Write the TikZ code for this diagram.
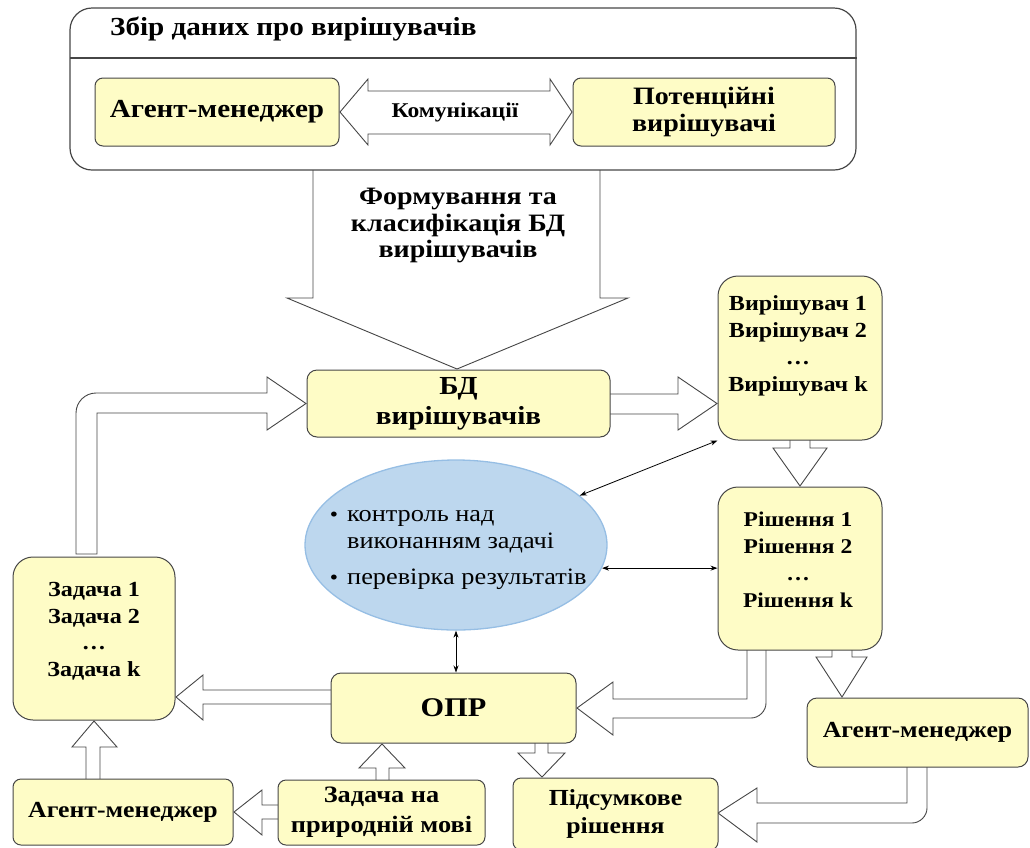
\documentclass[tikz,border=0pt]{standalone}
\usepackage{fontspec}
\setmainfont{Liberation Serif}[FakeStretch=1.12]
\usetikzlibrary{arrows.meta,shapes.geometric,backgrounds}
\definecolor{byel}{RGB}{254,252,198}
\definecolor{bord}{RGB}{70,70,70}
\definecolor{ellf}{RGB}{189,215,238}
\definecolor{elld}{RGB}{150,190,228}
\begin{document}
\begin{tikzpicture}[x=1pt,y=-1pt,
  ybox/.style={draw=bord, fill=byel, line width=1pt, inner sep=0pt, align=center},
  barrow/.style={draw=bord, fill=white, line width=0.9pt, line join=miter},
  thinarr/.style={{Stealth[length=7pt,width=5pt]}-{Stealth[length=7pt,width=5pt]}, line width=0.8pt, black},
  lbl/.style={inner sep=0pt, align=center},
  fs/.style 2 args={font=\bfseries\fontsize{#1}{#2}\selectfont},
  fr/.style 2 args={font=\fontsize{#1}{#2}\selectfont}]
\useasboundingbox (0,0) rectangle (1030,847);

% top container
\node[draw=bord, line width=1.2pt, rounded corners=22, minimum width=786, minimum height=162, inner sep=0pt] (top) at (463,89) {};
\coordinate (dl) at (70,58);
\draw[bord, line width=1.2pt] (dl) -- (dl -| top.east);
\node[lbl, fs={26}{28}, anchor=west] (title) at (110,29) {Збір даних про вирішувачів};

\node[ybox, fs={26}{28}, rounded corners=8, minimum width=244, minimum height=68] (agA) at (217,112) {Агент-менеджер};
\node[ybox, fs={25}{27}, rounded corners=8, minimum width=262, minimum height=68] (pot) at (704,112) {Потенційні\\вирішувачі};
\node[lbl, fs={21}{23}] (kom) at (455,112) {Комунікації};

\node[lbl, fs={25}{26.5}] (form) at (458,226) {Формування та\\класифікація БД\\вирішувачів};

\node[ybox, fs={26}{30}, rounded corners=10, minimum width=303, minimum height=67] (bd) at (458.5,403.5) {БД\\вирішувачів};

\node[ybox, rounded corners=20, minimum width=164, minimum height=164] (solv) at (800,358) {};
\node[lbl, fs={21.5}{27}] (solvT) at (798,346) {Вирішувач 1\\Вирішувач 2\\…\\Вирішувач k};

\node[ybox, rounded corners=20, minimum width=164, minimum height=163] (sol) at (800,568.5) {};
\node[lbl, fs={21}{27}] (solT) at (798,560) {Рішення 1\\Рішення 2\\…\\Рішення k};

\node[ybox, rounded corners=20, minimum width=162, minimum height=163] (zad) at (94,638.5) {};
\node[lbl, fs={21.5}{26.5}] (zadT) at (94,631) {Задача 1\\Задача 2\\…\\Задача k};

\node[ybox, fs={27}{30}, rounded corners=10, minimum width=245, minimum height=70] (opr) at (453.5,708) {ОПР};
\node[ybox, fs={23}{24}, rounded corners=8, minimum width=220, minimum height=66] (agB) at (123,812) {Агент-менеджер};
\node[ybox, fs={23.5}{30}, rounded corners=8, minimum width=207, minimum height=65] (znm) at (381.5,812.5) {Задача на\\природній мові};
\node[ybox, fs={23}{28}, rounded corners=8, minimum width=205, minimum height=72] (pid) at (615.5,814) {Підсумкове\\рішення};
\node[ybox, fs={23}{24}, rounded corners=10, minimum width=221, minimum height=69] (agC) at (917.5,732.5) {Агент-менеджер};

% ellipse
\node[draw=elld, fill=ellf, ellipse, line width=1.3pt, minimum width=302, minimum height=170, inner sep=0pt] (ell) at (456,545) {};
\node[anchor=base west, inner sep=0pt, fr={23.5}{26}] (e1) at (347,521) {контроль над};
\node[anchor=base west, inner sep=0pt, fr={23.5}{26}] (e2) at (347,548) {виконанням задачі};
\node[anchor=base west, inner sep=0pt, fr={23.5}{26}] (e3) at (347,584) {перевірка результатів};
\node[anchor=base, inner sep=0pt, fr={21}{24}] (b1) at (334,521) {•};
\node[anchor=base, inner sep=0pt, fr={21}{24}] (b3) at (334,584) {•};

% thin arrows
\draw[thinarr] (solv.south west) -- (ell);
\draw[thinarr] (ell.-9.2) -- (ell.-9.2 -| sol.west);
\draw[thinarr] (ell.south) -- (ell.south |- opr.north);

% block arrows
\begin{scope}[on background layer]
\draw[barrow] (340,112) -- (368,79) -- (368,91) -- (550,91) -- (550,79) -- (572,112) -- (550,145) -- (550,134) -- (368,134) -- (368,145) -- cycle;
\draw[barrow] (313,170) -- (313,298) -- (287,298) -- (457,369) -- (628,298) -- (600,298) -- (600,170);
\draw[barrow] (76,554) -- (76,413) .. controls (76,402) and (85,393) .. (96,393) -- (267,393) -- (267,377) -- (306,403.5) -- (267,430) -- (267,413) -- (97,413) -- (97,554) -- cycle;
\draw[barrow] (610,394) -- (678,394) -- (678,377) -- (717,403.5) -- (678,430) -- (678,414) -- (610,414);
\draw[barrow] (790,440) -- (790,448) -- (773,448) -- (800,486) -- (827,448) -- (810,448) -- (810,440);
\draw[barrow] (747,650) -- (747,699) -- (613,699) -- (613,682) -- (577,708) -- (613,735) -- (613,718) -- (751,718) .. controls (759,718) and (766,711) .. (766,703) -- (766,650);
\draw[barrow] (832,650) -- (832,657) -- (816,657) -- (842,697) -- (867,657) -- (852,657) -- (852,650);
\draw[barrow] (331,690) -- (203,690) -- (203,675) -- (176,697) -- (203,720) -- (203,704) -- (331,704);
\draw[barrow] (86,779) -- (86,747) -- (72,747) -- (94,721) -- (117,747) -- (100,747) -- (100,779);
\draw[barrow] (278,805) -- (262,805) -- (262,790) -- (234,812) -- (262,835) -- (262,819) -- (278,819);
\draw[barrow] (376,780) -- (376,768) -- (359,768) -- (382,744) -- (405,768) -- (389,768) -- (389,780);
\draw[barrow] (535,743) -- (535,753) -- (518,753) -- (542,777) -- (565,753) -- (548,753) -- (548,743);
\draw[barrow] (907,767) -- (907,803) -- (757,803) -- (757,788) -- (718,813) -- (757,842) -- (757,823) -- (912,823) .. controls (920,823) and (927,816) .. (927,808) -- (927,767);
\end{scope}
\end{tikzpicture}
\end{document}
